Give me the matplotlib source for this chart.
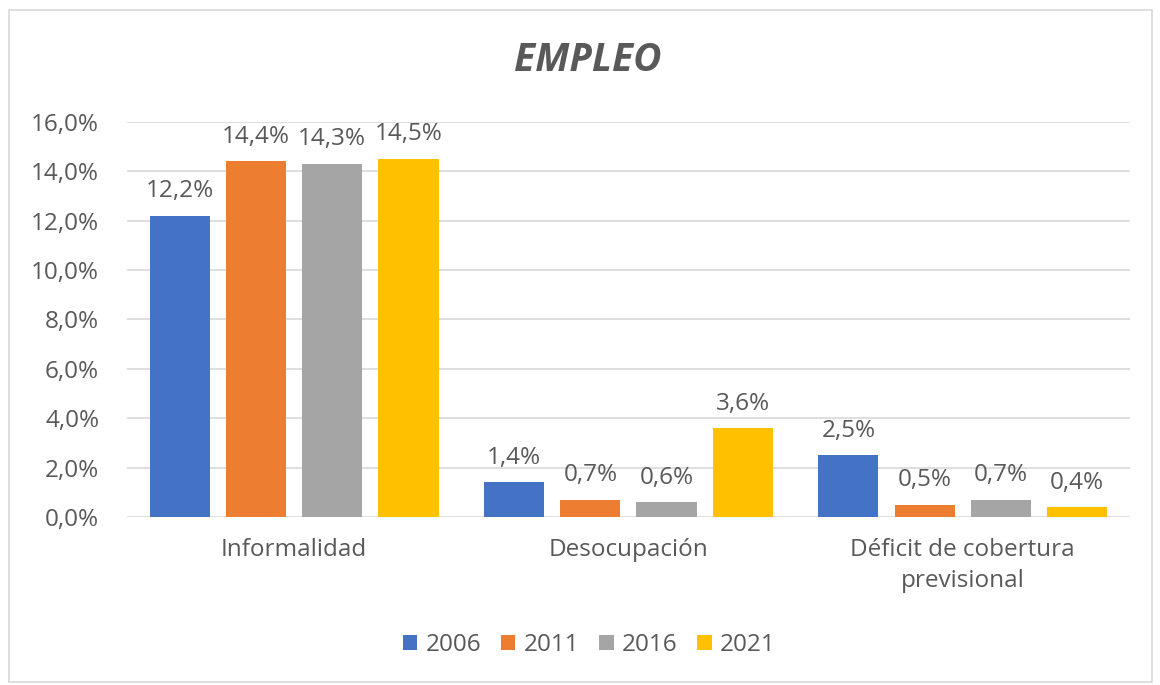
import matplotlib.pyplot as plt
import numpy as np
from matplotlib.patches import Rectangle

categories = ["Informalidad", "Desocupación", "Déficit de cobertura\nprevisional"]
years = ["2006", "2011", "2016", "2021"]
values = {
    "2006": [12.2, 1.4, 2.5],
    "2011": [14.4, 0.7, 0.5],
    "2016": [14.3, 0.6, 0.7],
    "2021": [14.5, 3.6, 0.4],
}
colors = ["#4472C4", "#ED7D31", "#A5A5A5", "#FFC000"]
yticks = [0, 2, 4, 6, 8, 10, 12, 14, 16]

plt.rcParams["font.family"] = ["Open Sans", "DejaVu Sans"]
text_color = "#595959"
fs = 17.5

fig = plt.figure(figsize=(11.6, 6.85), dpi=100)
fig.patches.append(Rectangle((0.008, 0.005), 0.985, 0.98, transform=fig.transFigure,
                             fill=False, edgecolor="#D9D9D9", linewidth=1.2))
ax = fig.add_axes([0.1095, 0.2453, 0.8645, 0.5767])

x = np.arange(len(categories))
step = 0.228
width = 0.18
for i, (year, color) in enumerate(zip(years, colors)):
    pos = x + (i - 1.5) * step
    bars = ax.bar(pos, values[year], width=width, color=color, label=year, zorder=3)
    for b, v in zip(bars, values[year]):
        ax.annotate(f"{v:.1f}%".replace(".", ","), (b.get_x() + b.get_width() / 2, v),
                    xytext=(0, 9), textcoords="offset points", ha="center", va="bottom",
                    fontsize=fs, color=text_color, zorder=4)

ax.set_xlim(-0.5, 2.5)
ax.set_ylim(0, 16)
ax.set_yticks(yticks)
ax.set_yticklabels([f"{t:.1f}%".replace(".", ",") for t in yticks], fontsize=fs, color=text_color)
ax.set_xticks(x)
ax.set_xticklabels(categories, fontsize=fs, color=text_color, linespacing=1.4)
ax.tick_params(axis="y", length=0, pad=20)
ax.tick_params(axis="x", length=0, pad=15)
ax.grid(axis="y", color="#D9D9D9", linewidth=1.2, zorder=0)
for s in ax.spines.values():
    s.set_visible(False)

fig.text(0.507, 0.912, "EMPLEO", ha="center", va="center", fontsize=28,
         fontweight="bold", fontstyle="italic", color=text_color)

fig.legend(loc="center", bbox_to_anchor=(0.508, 0.058), ncol=4, frameon=False,
           fontsize=fs, labelcolor=text_color, handlelength=0.6, handleheight=0.6,
           handletextpad=0.35, columnspacing=0.8)

fig.savefig("out.png", dpi=100)
